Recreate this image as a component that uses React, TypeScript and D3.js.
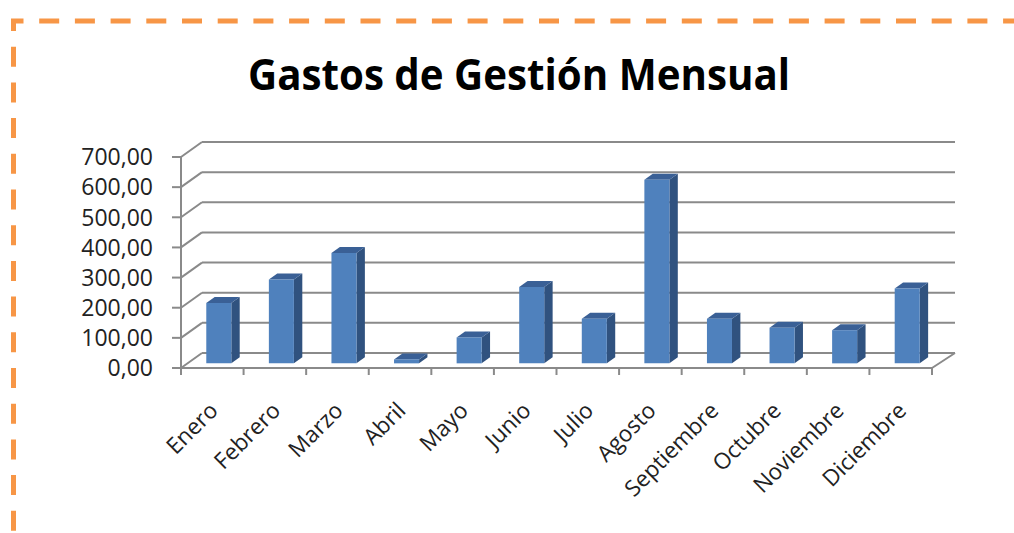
import React from "react";
import * as d3 from "d3";

// datos del gráfico
const months = [
  "Enero", "Febrero", "Marzo", "Abril", "Mayo", "Junio",
  "Julio", "Agosto", "Septiembre", "Octubre", "Noviembre", "Diciembre",
];
const gastos = [200, 278, 366, 13, 86, 253, 148, 609, 148, 118, 110, 248];
const yTicks = [0, 100, 200, 300, 400, 500, 600, 700];
const title = "Gastos de Gestión Mensual";

const W = 1014;
const H = 533;
const FONT = "'Open Sans', 'DejaVu Sans', sans-serif";

// perspectiva 3D (desplazamiento de la pared trasera)
const depthX = 21;
const depthY = -15;
const barFront = 0.31;
const barDepth = 0.4;

const fmt = (v: number) => d3.format(".2f")(v).replace(".", ",");

export default function App() {
  const x = d3.scaleBand<string>().domain(months).range([181, 932]);
  const y = d3.scaleLinear().domain([0, 700]).range([368, 157]);
  const bw = x.bandwidth();
  const grid = "#8a8a8a";

  const bx = depthX * barFront;
  const by = depthY * barFront;
  const sx = depthX * barDepth;
  const sy = depthY * barDepth;

  // borde naranja punteado
  const period = 35.7;
  const borderPath = `M13.5,540 V21 H1014`;

  return (
    <svg width={W} height={H} style={{ position: "absolute", left: 0, top: 0, background: "#fff" }}>
      <rect width={W} height={H} fill="#fff" />
      <path
        d={borderPath}
        fill="none"
        stroke="#F79646"
        strokeWidth={5}
        strokeDasharray={`20 ${period - 20}`}
        strokeDashoffset={26.5}
      />

      <text
        x={519}
        y={90}
        textAnchor="middle"
        fontFamily={FONT}
        fontWeight={700}
        fontSize={43}
        textLength={542}
        lengthAdjust="spacingAndGlyphs"
        fill="#000"
      >
        {title}
      </text>

      {/* pared trasera y líneas de cuadrícula */}
      {yTicks.map((t) => (
        <g key={t}>
          <line
            x1={x.range()[0]}
            y1={y(t)}
            x2={x.range()[0] + depthX}
            y2={y(t) + depthY}
            stroke={grid}
            strokeWidth={2}
          />
          <line
            x1={x.range()[0] + depthX}
            y1={y(t) + depthY}
            x2={x.range()[1] + depthX + 2}
            y2={y(t) + depthY}
            stroke={grid}
            strokeWidth={2}
          />
          <line x1={172} y1={y(t)} x2={x.range()[0]} y2={y(t)} stroke={grid} strokeWidth={2} />
          <text
            x={153}
            y={y(t)}
            dy="0.36em"
            textAnchor="end"
            fontFamily={FONT}
            fontSize={23}
            fill="#222"
          >
            {fmt(t)}
          </text>
        </g>
      ))}

      {/* piso */}
      <line x1={x.range()[1]} y1={y(0)} x2={x.range()[1] + depthX + 2} y2={y(0) + depthY} stroke={grid} strokeWidth={2} />
      <line x1={x.range()[0]} y1={y(0)} x2={x.range()[1]} y2={y(0)} stroke={grid} strokeWidth={2} />
      <line x1={x.range()[0]} y1={y(700)} x2={x.range()[0]} y2={y(0)} stroke={grid} strokeWidth={2} />
      {[...months.map((m) => x(m) as number), x.range()[1]].map((px, i) => (
        <line key={i} x1={px} y1={y(0)} x2={px} y2={y(0) + 7} stroke={grid} strokeWidth={2} />
      ))}

      {/* barras */}
      {months.map((m, i) => {
        const left = (x(m) as number) + bw * 0.3 + bx;
        const right = left + bw * 0.4;
        const top = y(gastos[i]) + by;
        const bottom = y(0) + by;
        const front = `M${left},${top} H${right} V${bottom} H${left} Z`;
        const side = `M${right},${top} L${right + sx},${top + sy} V${bottom + sy} L${right},${bottom} Z`;
        const lid = `M${left},${top} L${left + sx},${top + sy} H${right + sx} L${right},${top} Z`;
        return (
          <g key={m}>
            <path d={side} fill="#30527f" />
            <path d={lid} fill="#3a6096" />
            <path d={front} fill="#4f81bd" />
          </g>
        );
      })}

      {/* etiquetas del eje x */}
      {months.map((m) => {
        const cx = (x(m) as number) + bw / 2 + 7;
        const cy = 412;
        return (
          <text
            key={m}
            x={cx}
            y={cy}
            textAnchor="end"
            transform={`rotate(-45, ${cx}, ${cy})`}
            fontFamily={FONT}
            fontSize={22.5}
            fill="#222"
          >
            {m}
          </text>
        );
      })}
    </svg>
  );
}
